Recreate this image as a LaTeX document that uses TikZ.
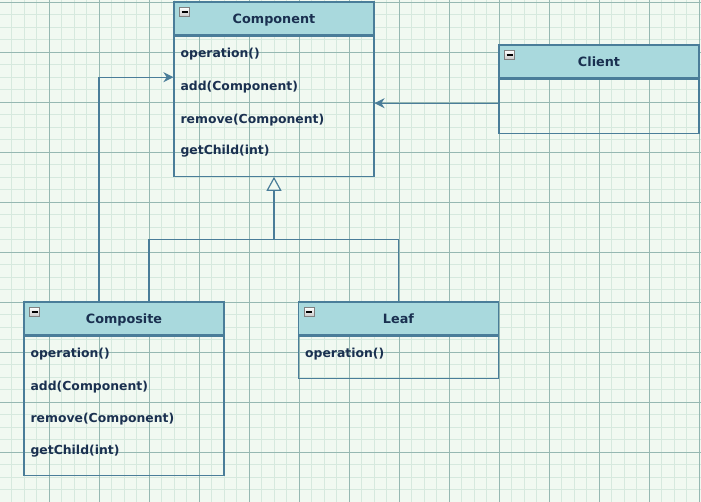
\documentclass[tikz,border=0pt]{standalone}
\usepackage{fontspec}
\setmainfont{DejaVu Sans}
\usetikzlibrary{arrows.meta, positioning}
\definecolor{bgcol}{RGB}{241,249,241}
\definecolor{gridminor}{RGB}{214,233,222}
\definecolor{gridmajor}{RGB}{150,184,178}
\definecolor{headfill}{RGB}{169,217,221}
\definecolor{boxline}{RGB}{74,125,153}
\definecolor{textcol}{RGB}{26,48,80}
\tikzset{
  classhead/.style={
    draw=boxline, fill=headfill, line width=1.2pt,
    minimum width=200pt, minimum height=33pt, inner sep=0pt,
    text height=9.5pt, text depth=0pt,
    font=\fontsize{12.8}{15}\selectfont\bfseries\color{textcol}
  },
  classbody/.style={
    draw=boxline, line width=1.2pt,
    minimum width=200pt, inner sep=0pt
  },
  member/.style={
    anchor=west, inner sep=0pt,
    font=\fontsize{12.4}{14}\selectfont\bfseries\color{textcol}
  },
  minusicon/.style={
    draw=gray, top color=white, bottom color=gray!45,
    minimum width=10pt, minimum height=9pt, inner sep=0pt,
    path picture={\draw[black, line width=1.3pt]
      ([xshift=2pt]path picture bounding box.west) --
      ([xshift=-2pt]path picture bounding box.east);}
  },
  assocarrow/.style={
    -{Stealth[length=10pt,width=10pt]},
    draw=boxline, line width=1.2pt
  },
  inheritarrow/.style={
    -{Triangle[open,length=14pt,width=15pt,fill=bgcol]},
    draw=boxline, line width=1.2pt
  },
}

\begin{document}
\begin{tikzpicture}[x=1pt, y=-1pt]

  %% Background and grid
  \useasboundingbox (0,0) rectangle (701,502);
  \fill[bgcol] (0,0) rectangle (701,502);
  \begin{scope}
    \clip (0,0) rectangle (701,502);
    \draw[gridminor, line width=0.6pt, xshift=-1pt, yshift=-2pt, step=12.5pt]
      (-30,-30) grid (730,530);
    \draw[gridmajor, line width=0.8pt, xshift=-1pt, yshift=-2pt, step=50pt]
      (-30,-30) grid (730,530);
  \end{scope}

  %% Component
  \node[classhead] (comp) at (274,18.5) {Component};
  \node[classbody, minimum height=140pt, below=0pt of comp] (compbody) {};
  \node[minusicon, below right=6pt and 6pt of comp.north west] (compicon) {};
  \node[member] (comp1) at ([xshift=7pt, yshift=-18pt]comp.south west) {operation()};
  \node[member] (comp2) at ([xshift=7pt, yshift=-51pt]comp.south west) {add(Component)};
  \node[member] (comp3) at ([xshift=7pt, yshift=-84pt]comp.south west) {remove(Component)};
  \node[member] (comp4) at ([xshift=7pt, yshift=-116pt]comp.south west) {getChild(int)};

  %% Client
  \node[classhead] (client) at (599,61.5) {Client};
  \node[classbody, minimum height=54pt, below=0pt of client] (clientbody) {};
  \node[minusicon, below right=6pt and 6pt of client.north west] (clienticon) {};

  %% Composite
  \node[classhead] (csite) at (124,318.5) {Composite};
  \node[classbody, minimum height=139pt, below=0pt of csite] (csitebody) {};
  \node[minusicon, below right=6pt and 6pt of csite.north west] (csiteicon) {};
  \node[member] (csite1) at ([xshift=7pt, yshift=-18pt]csite.south west) {operation()};
  \node[member] (csite2) at ([xshift=7pt, yshift=-51pt]csite.south west) {add(Component)};
  \node[member] (csite3) at ([xshift=7pt, yshift=-83pt]csite.south west) {remove(Component)};
  \node[member] (csite4) at ([xshift=7pt, yshift=-116pt]csite.south west) {getChild(int)};

  %% Leaf
  \node[classhead] (leaf) at (398.5,318.5) {Leaf};
  \node[classbody, minimum height=42pt, below=0pt of leaf] (leafbody) {};
  \node[minusicon, below right=6pt and 6pt of leaf.north west] (leaficon) {};
  \node[member] (leaf1) at ([xshift=7pt, yshift=-18pt]leaf.south west) {operation()};

  %% Associations
  \draw[assocarrow] ([yshift=3pt]clientbody.west) -- ([yshift=3pt]compbody.east);
  \draw[assocarrow] ([xshift=-25pt]csite.north) |- ([yshift=29pt]compbody.west);

  %% Generalization
  \coordinate[below=63pt of compbody.south] (split);
  \draw[boxline, line width=1.2pt] (leaf.north) |- (split);
  \draw[inheritarrow] ([xshift=25pt]csite.north) |- (split) -- (compbody.south);

\end{tikzpicture}
\end{document}
